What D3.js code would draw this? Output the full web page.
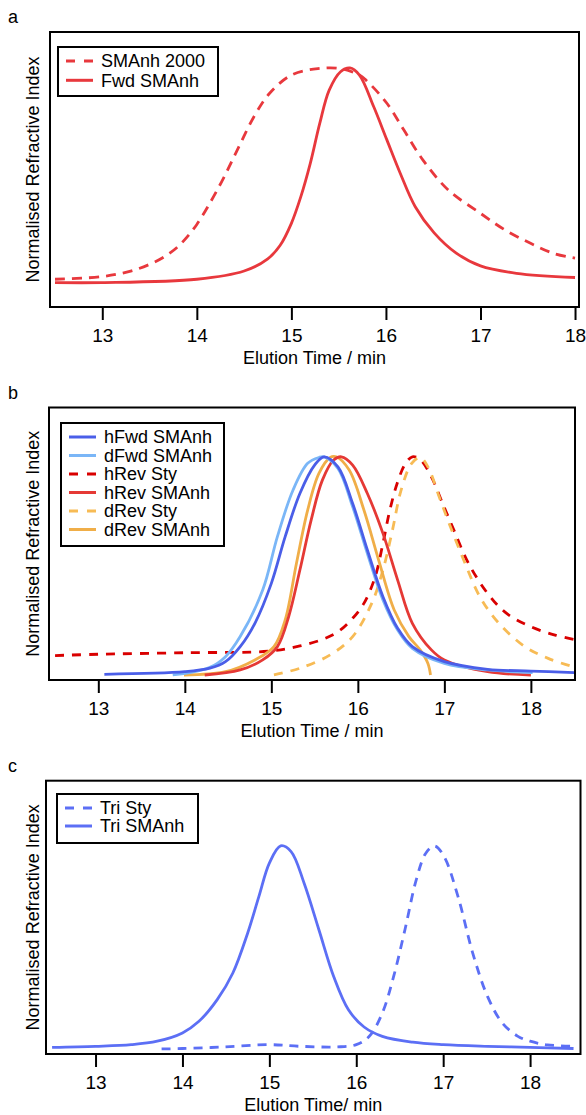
<!DOCTYPE html>
<html>
<head>
<meta charset="utf-8">
<script src="https://cdn.jsdelivr.net/npm/d3@7"></script>
<style>
  body { margin: 0; background: #fff; }
  svg text { font-family: "Liberation Sans", Arial, Helvetica, sans-serif; fill: #000; }
</style>
</head>
<body>
<div id="chart"></div>
<script>
// ---- data (elution time in min, normalised RI) ----
const xTicks = [13, 14, 15, 16, 17, 18];

// panel a
const smaT = [12.5, 13, 13.3, 13.5, 13.66, 13.8, 13.9, 14.0, 14.13, 14.29, 14.45, 14.61, 14.77, 15.0, 15.28, 15.52, 15.72, 15.79, 16.01, 16.19, 16.39, 16.66, 17.0, 17.26, 17.53, 17.77, 18.0];
const smaV = [0.048, 0.06, 0.085, 0.115, 0.15, 0.195, 0.24, 0.295, 0.385, 0.51, 0.65, 0.785, 0.886, 0.968, 0.997, 0.997, 0.968, 0.945, 0.841, 0.72, 0.586, 0.45, 0.345, 0.27, 0.21, 0.165, 0.143];
const fwdT = [12.5, 13, 14, 14.5, 14.75, 14.88, 15.0, 15.1, 15.2, 15.3, 15.4, 15.52, 15.62, 15.72, 15.87, 16.01, 16.15, 16.31, 16.51, 16.74, 17.0, 17.38, 18.0];
const fwdV = [0.033, 0.033, 0.048, 0.085, 0.14, 0.2, 0.3, 0.42, 0.57, 0.75, 0.9, 0.983, 1.0, 0.968, 0.826, 0.676, 0.527, 0.375, 0.257, 0.167, 0.108, 0.075, 0.056];

// panel b
const hFwdT = [13.07, 14.0, 14.29, 14.47, 14.64, 14.81, 15.0, 15.16, 15.33, 15.5, 15.61, 15.77, 15.94, 16.11, 16.29, 16.46, 16.63, 17.0, 17.5, 18.0, 18.5];
const hFwdV = [0.003, 0.015, 0.031, 0.061, 0.13, 0.237, 0.42, 0.634, 0.832, 0.962, 1.0, 0.954, 0.786, 0.573, 0.359, 0.214, 0.13, 0.061, 0.026, 0.018, 0.011];
const dFwdT = [13.86, 14.29, 14.47, 14.64, 14.9, 15.07, 15.25, 15.42, 15.55, 15.61, 15.77, 15.94, 16.11, 16.29, 16.46, 16.63, 17.0, 17.5, 18.02];
const dFwdV = [0.0, 0.035, 0.084, 0.176, 0.389, 0.634, 0.847, 0.97, 0.997, 1.0, 0.947, 0.771, 0.557, 0.344, 0.206, 0.122, 0.053, 0.023, 0.011];
const hRevStyT = [12.5, 13, 14, 15, 15.33, 15.59, 15.77, 15.94, 16.07, 16.2, 16.29, 16.37, 16.46, 16.55, 16.63, 16.72, 16.85, 16.98, 17.11, 17.28, 17.5, 17.72, 18.0, 18.28, 18.5];
const hRevStyV = [0.089, 0.095, 0.102, 0.11, 0.133, 0.163, 0.198, 0.26, 0.328, 0.45, 0.603, 0.756, 0.885, 0.969, 1.0, 0.988, 0.908, 0.786, 0.664, 0.511, 0.374, 0.282, 0.221, 0.183, 0.163];
const hRevSmaT = [14.23, 14.64, 14.9, 15.07, 15.2, 15.33, 15.46, 15.59, 15.72, 15.81, 15.94, 16.11, 16.29, 16.46, 16.63, 16.85, 17.0, 17.5, 18.0];
const hRevSmaV = [0.0, 0.023, 0.069, 0.13, 0.267, 0.481, 0.71, 0.893, 0.985, 1.0, 0.962, 0.832, 0.649, 0.435, 0.237, 0.115, 0.069, 0.015, 0.0];
const dRevStyT = [15.03, 15.33, 15.68, 15.94, 16.16, 16.29, 16.4, 16.5, 16.62, 16.72, 16.81, 16.94, 17.07, 17.24, 17.41, 17.63, 17.93, 18.2, 18.46];
const dRevStyV = [0.0, 0.031, 0.092, 0.176, 0.328, 0.481, 0.664, 0.847, 0.969, 0.997, 0.954, 0.817, 0.679, 0.511, 0.359, 0.237, 0.13, 0.076, 0.041];
const dRevSmaT = [13.99, 14.47, 14.81, 15.03, 15.16, 15.29, 15.42, 15.55, 15.68, 15.75, 15.9, 16.07, 16.24, 16.42, 16.59, 16.72, 16.81, 16.84];
const dRevSmaV = [0.0, 0.015, 0.069, 0.13, 0.252, 0.511, 0.756, 0.924, 0.997, 1.0, 0.939, 0.756, 0.527, 0.298, 0.176, 0.115, 0.053, 0.0];

// panel c
const triSmaT = [12.5, 13, 13.41, 13.71, 14.0, 14.19, 14.4, 14.58, 14.75, 14.88, 15.0, 15.13, 15.25, 15.4, 15.57, 15.74, 15.91, 16.09, 16.3, 16.65, 17.0, 17.51, 18.0, 18.5];
const triSmaV = [0.008, 0.013, 0.021, 0.038, 0.079, 0.136, 0.243, 0.374, 0.57, 0.751, 0.915, 1.0, 0.972, 0.816, 0.587, 0.357, 0.193, 0.108, 0.062, 0.033, 0.021, 0.013, 0.008, 0.002];
const triStyT = [13.76, 14.0, 14.49, 15.0, 15.35, 15.78, 16.0, 16.15, 16.3, 16.43, 16.56, 16.69, 16.8, 16.9, 17.01, 17.17, 17.34, 17.51, 17.68, 17.86, 18.0, 18.2, 18.5];
const triStyV = [0.0, 0.002, 0.01, 0.021, 0.013, 0.01, 0.021, 0.062, 0.177, 0.357, 0.587, 0.833, 0.964, 1.0, 0.948, 0.751, 0.472, 0.259, 0.128, 0.062, 0.038, 0.02, 0.013];

const width = 586, height = 1115;

const svg = d3.select("#chart").append("svg")
    .attr("width", width)
    .attr("height", height);

const panels = [
  {
    tag: "a", left: 50, right: 579, top: 32, bottom: 307,
    xDomain: [12.447, 18.042], yDomain: [-0.077, 1.162],
    xTitle: "Elution Time / min",
    legend: { x: 58, y: 47, w: 160, h: 49, row: 19.3 },
    series: [
      { name: "SMAnh 2000", t: smaT, v: smaV, color: "#e8383d", dash: "10,7" },
      { name: "Fwd SMAnh", t: fwdT, v: fwdV, color: "#e8383d" }
    ]
  },
  {
    tag: "b", left: 49, right: 575, top: 407.5, bottom: 680,
    xDomain: [12.43, 18.51], yDomain: [-0.023, 1.226],
    xTitle: "Elution Time / min",
    legend: { x: 61, y: 423, w: 163, h: 123, row: 18.5 },
    series: [
      { name: "hFwd SMAnh", t: hFwdT, v: hFwdV, color: "#4a5ee8" },
      { name: "dFwd SMAnh", t: dFwdT, v: dFwdV, color: "#7ab6f7" },
      { name: "hRev Sty", t: hRevStyT, v: hRevStyV, color: "#d90000", dash: "9,8" },
      { name: "hRev SMAnh", t: hRevSmaT, v: hRevSmaV, color: "#e53935" },
      { name: "dRev Sty", t: dRevStyT, v: dRevStyV, color: "#f7bb55", dash: "9,8" },
      { name: "dRev SMAnh", t: dRevSmaT, v: dRevSmaV, color: "#f0ae48" }
    ],
    order: [2, 4, 5, 3, 1, 0]
  },
  {
    tag: "c", left: 46, right: 580.5, top: 780.7, bottom: 1054,
    xDomain: [12.43, 18.58], yDomain: [-0.025, 1.321],
    xTitle: "Elution Time/ min",
    legend: { x: 57, y: 794, w: 141, h: 49, row: 18 },
    series: [
      { name: "Tri Sty", t: triStyT, v: triStyV, color: "#5c6ff5", dash: "9,7" },
      { name: "Tri SMAnh", t: triSmaT, v: triSmaV, color: "#5c6ff5" }
    ]
  }
];

panels.forEach(p => drawPanel(p));

function drawPanel(p) {
  const x = d3.scaleLinear().domain(p.xDomain).range([p.left, p.right]);
  const y = d3.scaleLinear().domain(p.yDomain).range([p.bottom, p.top]);

  const g = svg.append("g");

  // panel letter
  g.append("text")
    .attr("x", 8)
    .attr("y", p.top - 9)
    .style("font-size", "18px")
    .text(p.tag);

  // curves
  const line = d3.line()
    .x(d => x(d.t))
    .y(d => y(d.v))
    .curve(d3.curveCatmullRom.alpha(0.5));

  const order = p.order || p.series.map((s, i) => i);
  order.forEach(i => {
    const s = p.series[i];
    const pts = s.t.map((t, j) => ({ t: t, v: s.v[j] }));
    g.append("path")
      .datum(pts)
      .attr("fill", "none")
      .attr("stroke", s.color)
      .attr("stroke-width", 2.8)
      .attr("stroke-dasharray", s.dash || null)
      .attr("d", line);
  });

  // frame
  g.append("rect")
    .attr("x", p.left)
    .attr("y", p.top)
    .attr("width", p.right - p.left)
    .attr("height", p.bottom - p.top)
    .attr("fill", "none")
    .attr("stroke", "#000")
    .attr("stroke-width", 2);

  // x axis
  const ax = g.append("g")
    .attr("transform", "translate(0," + p.bottom + ")")
    .call(d3.axisBottom(x).tickValues(xTicks).tickSize(13).tickPadding(9).tickFormat(d3.format("d")));
  ax.select(".domain").remove();
  ax.selectAll(".tick line").attr("stroke", "#000").attr("stroke-width", 2);
  ax.selectAll(".tick text")
    .style("font-size", "19px")
    .style("font-family", "'Liberation Sans', Arial, sans-serif");

  g.append("text")
    .attr("x", (p.left + p.right) / 2)
    .attr("y", p.bottom + 57)
    .attr("text-anchor", "middle")
    .style("font-size", "18px")
    .text(p.xTitle);

  // y title
  g.append("text")
    .attr("transform", "translate(" + 33 + "," + (p.top + p.bottom) / 2 + ") rotate(-90)")
    .attr("text-anchor", "middle")
    .attr("dy", "0.35em")
    .style("font-size", "18px")
    .text("Normalised Refractive Index");

  // legend
  const L = p.legend;
  const lg = g.append("g");
  lg.append("rect")
    .attr("x", L.x)
    .attr("y", L.y)
    .attr("width", L.w)
    .attr("height", L.h)
    .attr("fill", "#fff")
    .attr("stroke", "#000")
    .attr("stroke-width", 2);

  p.series.forEach((s, i) => {
    const cy = L.y + 14 + i * L.row;
    lg.append("line")
      .attr("x1", L.x + 8)
      .attr("x2", L.x + 35)
      .attr("y1", cy)
      .attr("y2", cy)
      .attr("stroke", s.color)
      .attr("stroke-width", 3)
      .attr("stroke-dasharray", s.dash ? "9,9" : null);
    lg.append("text")
      .attr("x", L.x + 43)
      .attr("y", cy)
      .attr("dy", "0.35em")
      .style("font-size", "18px")
      .text(s.name);
  });
}
</script>
</body>
</html>
